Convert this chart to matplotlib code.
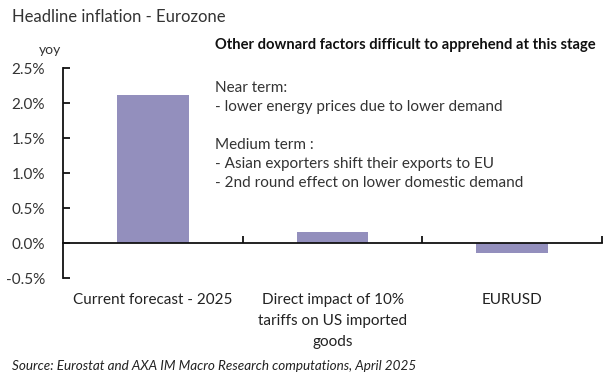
import matplotlib
matplotlib.use("Agg")
import matplotlib.pyplot as plt
from matplotlib.ticker import FuncFormatter, MultipleLocator
from matplotlib.transforms import ScaledTranslation

plt.rcParams['font.family'] = ['Lato', 'DejaVu Sans']

categories = ["Current forecast - 2025",
              "Direct impact of 10%\ntariffs on US imported\ngoods",
              "EURUSD"]
values = [2.12, 0.155, -0.14]
bar_color = "#938FBD"

title = "Headline inflation - Eurozone"
unit_label = "yoy"
note_head = "Other downard factors difficult to apprehend at this stage"
note_lines = ["Near term:",
              "- lower energy prices due to lower demand",
              "",
              "Medium term :",
              "- Asian exporters shift their exports to EU",
              "- 2nd round effect on lower domestic demand"]
source = "Source: Eurostat and AXA IM Macro Research computations, April 2025"

W, H = 614, 379
fig = plt.figure(figsize=(W / 100, H / 100), dpi=100)
ax = fig.add_axes([63 / W, 1 - 278.3 / H, (602 - 63) / W, (278.3 - 68.3) / H])

x = list(range(len(categories)))
ax.bar(x, values, width=0.4, color=bar_color, zorder=2)
ax.set_xlim(-0.5, len(categories) - 0.5)
ax.set_ylim(-0.5, 2.5)

ax.yaxis.set_major_locator(MultipleLocator(0.5))
ax.yaxis.set_major_formatter(FuncFormatter(lambda v, p: f"{v:.1f}%"))
ax.tick_params(axis='y', direction='in', length=5, width=1.3, labelsize=11,
               colors='#111111', pad=13)
for lbl in ax.get_yticklabels():
    lbl.set_color('#333333')

for s in ['top', 'right']:
    ax.spines[s].set_visible(False)
ax.spines['left'].set_linewidth(1.3)
ax.spines['left'].set_color('#111111')
ax.spines['bottom'].set_position(('data', 0))
ax.spines['bottom'].set_linewidth(1.3)
ax.spines['bottom'].set_color('#111111')

# category boundary ticks on the zero line
ax.set_xticks([i + 0.5 for i in x])
ax.set_xticklabels([])
ax.tick_params(axis='x', direction='in', length=5, width=1.3, colors='#111111')

# category labels below the plot
offset = ScaledTranslation(0, -15 / 100, fig.dpi_scale_trans)
for i, c in zip(x, categories):
    ax.text(i, -0.5, c, transform=ax.transData + offset, ha='center', va='top',
            fontsize=11, color='#222222', linespacing=1.62, clip_on=False)

fig.text(12 / W, 1 - 17 / H, title, ha='left', va='center', fontsize=12, color='#333333')
fig.text(50 / W, 1 - 50 / H, unit_label, ha='center', va='center', fontsize=10, color='#333333')
fig.text(215 / W, 1 - 45 / H, note_head, ha='left', va='center', fontsize=10.6,
         fontweight='bold', color='#111111')
fig.text(215 / W, 1 - 81 / H, "\n".join(note_lines), ha='left', va='top',
         fontsize=11, color='#333333', linespacing=1.45)
fig.text(12 / W, 1 - 366 / H, source, ha='left', va='center', fontsize=9.7,
         style='italic', color='#222222')

fig.savefig("out.png", dpi=100)
